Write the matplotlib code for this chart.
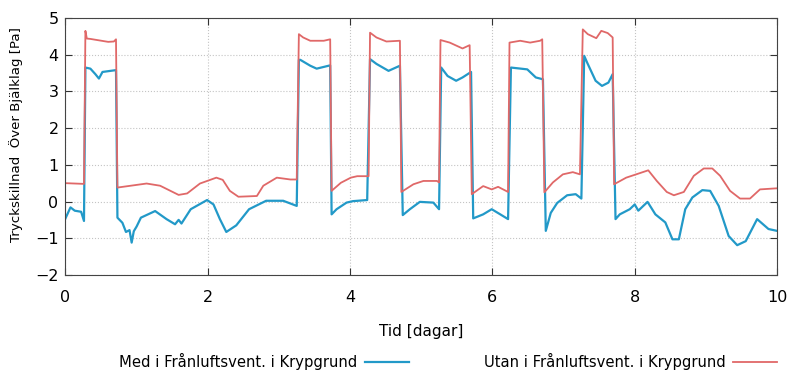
import matplotlib.pyplot as plt
import numpy as np

# Med i Frånluftsvent. i Krypgrund (blå)
t_med = [0.0, 0.07, 0.13, 0.22, 0.26, 0.28, 0.35, 0.42, 0.47, 0.52, 0.71, 0.73,
         0.80, 0.85, 0.90, 0.93, 0.96, 1.00, 1.06, 1.26, 1.42, 1.54, 1.59, 1.63,
         1.76, 1.99, 2.08, 2.17, 2.26, 2.40, 2.58, 2.82, 3.06, 3.25, 3.28,
         3.30, 3.44, 3.53, 3.72, 3.74, 3.81, 3.95, 4.04, 4.24, 4.28, 4.37, 4.54,
         4.70, 4.74, 4.84, 4.98, 5.17, 5.25, 5.28, 5.37, 5.49, 5.58, 5.70, 5.73,
         5.87, 5.99, 6.11, 6.22, 6.26, 6.40, 6.49, 6.61, 6.71, 6.75, 6.82, 6.91,
         7.05, 7.17, 7.25, 7.29, 7.33, 7.45, 7.54, 7.63, 7.69, 7.73, 7.79, 7.86,
         7.93, 8.00, 8.05, 8.18, 8.29, 8.43, 8.53, 8.62, 8.71, 8.81, 8.95, 9.06,
         9.18, 9.32, 9.44, 9.56, 9.72, 9.88, 10.0]
med = [-0.46, -0.16, -0.25, -0.28, -0.53, 3.65, 3.62, 3.47, 3.35, 3.53, 3.58, -0.44,
       -0.58, -0.83, -0.78, -1.12, -0.81, -0.68, -0.44, -0.26, -0.48, -0.62, -0.50, -0.60,
       -0.21, 0.04, -0.08, -0.48, -0.83, -0.65, -0.21, 0.02, 0.02, -0.12, 3.86,
       3.86, 3.70, 3.62, 3.71, -0.35, -0.21, -0.03, 0.01, 0.04, 3.88, 3.75, 3.56,
       3.70, -0.37, -0.21, -0.01, -0.03, -0.21, 3.65, 3.42, 3.29, 3.38, 3.53, -0.46,
       -0.35, -0.21, -0.35, -0.48, 3.65, 3.62, 3.60, 3.38, 3.33, -0.80, -0.31, -0.04,
       0.17, 0.20, 0.08, 3.97, 3.79, 3.29, 3.15, 3.24, 3.47, -0.48, -0.35, -0.28,
       -0.21, -0.08, -0.25, -0.01, -0.35, -0.57, -1.03, -1.03, -0.21, 0.11, 0.31, 0.29,
       -0.12, -0.94, -1.19, -1.08, -0.48, -0.75, -0.80]

# Utan i Frånluftsvent. i Krypgrund (röd)
t_utan = [0.0, 0.26, 0.28, 0.30, 0.35, 0.60, 0.68, 0.71, 0.73, 1.14, 1.33, 1.59,
          1.71, 1.89, 2.12, 2.21, 2.31, 2.43, 2.69, 2.78, 2.97, 3.16, 3.25, 3.28,
          3.34, 3.44, 3.63, 3.72, 3.74, 3.87, 4.01, 4.10, 4.26, 4.28, 4.37, 4.51,
          4.70, 4.72, 4.89, 5.03, 5.22, 5.25, 5.27, 5.40, 5.58, 5.68, 5.71, 5.87,
          5.99, 6.08, 6.22, 6.24, 6.39, 6.53, 6.67, 6.70, 6.73, 6.85, 6.99, 7.13,
          7.23, 7.27, 7.34, 7.46, 7.53, 7.62, 7.69, 7.71, 7.88, 8.02, 8.19, 8.31,
          8.45, 8.55, 8.69, 8.83, 8.97, 9.09, 9.20, 9.34, 9.48, 9.62, 9.76, 10.0]
utan = [0.50, 0.48, 4.65, 4.44, 4.43, 4.35, 4.36, 4.42, 0.38, 0.49, 0.43, 0.18,
        0.22, 0.49, 0.65, 0.59, 0.29, 0.13, 0.15, 0.43, 0.65, 0.60, 0.60, 4.56,
        4.47, 4.38, 4.38, 4.42, 0.29, 0.51, 0.65, 0.69, 0.69, 4.60, 4.47, 4.36,
        4.38, 0.26, 0.47, 0.56, 0.56, 0.52, 4.40, 4.33, 4.17, 4.26, 0.20, 0.42,
        0.33, 0.40, 0.26, 4.33, 4.38, 4.33, 4.38, 4.42, 0.25, 0.52, 0.74, 0.80,
        0.74, 4.69, 4.56, 4.45, 4.65, 4.59, 4.47, 0.47, 0.65, 0.74, 0.85, 0.56,
        0.26, 0.17, 0.26, 0.70, 0.90, 0.90, 0.70, 0.29, 0.08, 0.08, 0.33, 0.36]

fig = plt.figure(figsize=(7.88, 3.72), dpi=100)
ax = fig.add_axes([0.0831, 0.261, 0.903, 0.6906])

ax.plot(t_med, med, color='#2299c8', lw=1.6, label='Med i Frånluftsvent. i Krypgrund')
ax.plot(t_utan, utan, color='#e06868', lw=1.3, label='Utan i Frånluftsvent. i Krypgrund')

ax.set_xlim(0, 10)
ax.set_ylim(-2, 5)
ax.set_xticks([0, 2, 4, 6, 8, 10])
ax.set_yticks(np.arange(-2, 6, 1))
ax.tick_params(direction='in', top=True, right=True, labelsize=11.5, length=5, color='#333333')
ax.tick_params(axis='x', pad=11)
ax.tick_params(axis='y', pad=5)
ax.grid(True, color='#c4c4c4', linestyle=':', linewidth=0.8)
for s in ax.spines.values():
    s.set_color('#444444')

ax.set_xlabel('Tid [dagar]', fontsize=11)
ax.xaxis.set_label_coords(0.5, -0.19)
ax.set_ylabel('Tryckskillnad  Över Bjälklag [Pa]', fontsize=9.6)
ax.yaxis.set_label_coords(-0.060, 0.545)

fig.legend(loc='center', bbox_to_anchor=(0.5685, 0.027), ncol=2, frameon=False,
           markerfirst=False, fontsize=10.6, columnspacing=5.1, handlelength=3.0,
           handletextpad=0.5)

fig.savefig('out.png', dpi=100)
